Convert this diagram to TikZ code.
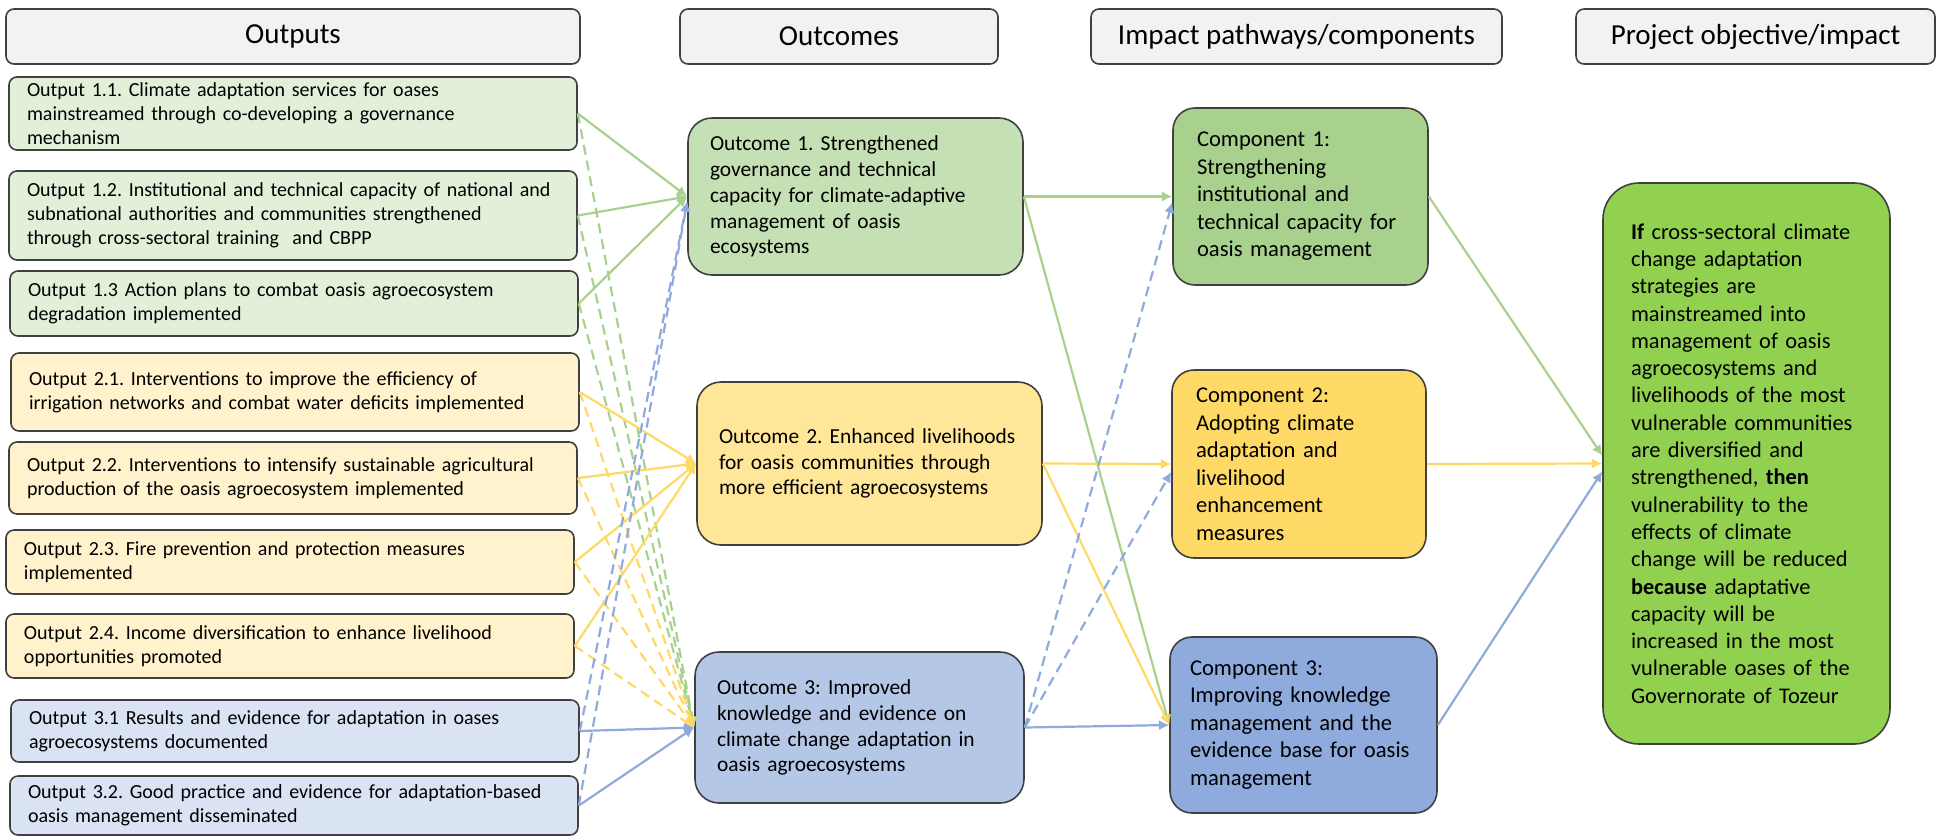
\documentclass[tikz,border=0pt]{standalone}
\usepackage{fontspec}
\setmainfont{Carlito}
\usetikzlibrary{arrows.meta}
\frenchspacing
\hyphenpenalty=10000

\definecolor{headFill}{HTML}{F2F2F2}
\definecolor{boxLine}{HTML}{404040}
\definecolor{outGreenFill}{HTML}{E2F0D9}
\definecolor{outYellowFill}{HTML}{FFF2CC}
\definecolor{outBlueFill}{HTML}{DAE3F3}
\definecolor{midGreenFill}{HTML}{C5E0B4}
\definecolor{midYellowFill}{HTML}{FFE699}
\definecolor{midBlueFill}{HTML}{B4C7E7}
\definecolor{compGreenFill}{HTML}{A9D18E}
\definecolor{compYellowFill}{HTML}{FFD966}
\definecolor{compBlueFill}{HTML}{8FAADC}
\definecolor{objFill}{HTML}{92D050}
\definecolor{lineGreen}{HTML}{A9D18E}
\definecolor{lineYellow}{HTML}{FFD966}
\definecolor{lineBlue}{HTML}{8FAADC}

\tikzset{%
    >={Latex[width=1.8mm,length=1.8mm]},
    base/.style = {
        rectangle, rounded corners=4pt, draw=boxLine, line width=0.8pt,
        align=left, inner ysep=2pt, text=black
    },
    header/.style = {base, fill=headFill, minimum height=27.5pt, align=center,
        font=\fontsize{14.5}{17}\selectfont},
    output/.style = {base, inner xsep=9pt, text width=266pt,
        font=\fontsize{10}{12}\selectfont},
    outGreen/.style = {output, fill=outGreenFill},
    outYellow/.style = {output, fill=outYellowFill},
    outBlue/.style = {output, fill=outBlueFill},
    outcome/.style = {base, rounded corners=12pt, inner xsep=11pt,
        font=\fontsize{10.7}{12.9}\selectfont},
    component/.style = {base, rounded corners=11pt, inner xsep=12pt,
        font=\fontsize{11.3}{13.75}\selectfont},
    objective/.style = {base, rounded corners=18pt, fill=objFill, inner xsep=14pt,
        text width=115.5pt, minimum height=280.5pt,
        font=\fontsize{11.2}{13.65}\selectfont},
    link/.style = {->, line width=1.1pt},
    weak/.style = {link, dash pattern=on 5pt off 3pt},
}

\begin{document}
\begin{tikzpicture}[x=0.5pt, y=-0.5pt]
    \useasboundingbox (0,0) rectangle (1946,837);

    % Column headers
    \node (hOutputs)   [header, minimum width=287pt]   at (293,36.5)    {Outputs};
    \node (hOutcomes)  [header, minimum width=159pt]   at (839,36.5)    {Outcomes};
    \node (hImpact)    [header, minimum width=205.5pt] at (1296.5,36.5) {Impact pathways/components};
    \node (hObjective) [header, minimum width=179.5pt] at (1755.5,36.5) {Project objective/impact};

    % Outputs
    \node (out11) [outGreen, minimum height=36.5pt] at (293,113.5)
        {Output 1.1. Climate adaptation services for oases\\
         mainstreamed through co-developing a governance\\
         mechanism};
    \node (out12) [outGreen, minimum height=44.5pt] at (293,215.5)
        {Output 1.2. Institutional and technical capacity of national and\\
         subnational authorities and communities strengthened\\
         through cross-sectoral training \ and CBPP};
    \node (out13) [outGreen, minimum height=32.5pt] at (294,303.5)
        {Output 1.3 Action plans to combat oasis agroecosystem\\
         degradation implemented};
    \node (out21) [outYellow, minimum height=39pt] at (295,392)
        {Output 2.1. Interventions to improve the efficiency of\\
         irrigation networks and combat water deficits implemented};
    \node (out22) [outYellow, minimum height=36pt] at (293,478)
        {Output 2.2. Interventions to intensify sustainable agricultural\\
         production of the oasis agroecosystem implemented};
    \node (out23) [outYellow, minimum height=32pt] at (290,562)
        {Output 2.3. Fire prevention and protection measures\\
         implemented};
    \node (out24) [outYellow, minimum height=32pt] at (290,646)
        {Output 2.4. Income diversification to enhance livelihood\\
         opportunities promoted};
    \node (out31) [outBlue, minimum height=31pt] at (295,731)
        {Output 3.1 Results and evidence for adaptation in oases\\
         agroecosystems documented};
    \node (out32) [outBlue, minimum height=29.5pt] at (294,805.5)
        {Output 3.2. Good practice and evidence for adaptation-based\\
         oasis management disseminated};

    % Outcomes
    \node (outc1) [outcome, fill=midGreenFill, text width=145.5pt, minimum height=78.5pt]
        at (855.5,196.5)
        {Outcome 1. Strengthened\\ governance and technical\\
         capacity for climate-adaptive\\ management of oasis\\ ecosystems};
    \node (outc2) [outcome, fill=midYellowFill, text width=150.5pt, minimum height=81.5pt]
        at (869.5,463.5)
        {Outcome 2. Enhanced livelihoods\\ for oasis communities through\\
         more efficient agroecosystems};
    \node (outc3) [outcome, fill=midBlueFill, text width=142.5pt, minimum height=75.5pt]
        at (859.5,727.5)
        {Outcome 3: Improved\\ knowledge and evidence on\\
         climate change adaptation in\\ oasis agroecosystems};

    % Components
    \node (comp1) [component, fill=compGreenFill, text width=103.5pt, minimum height=88.5pt]
        at (1300.5,196.5)
        {Component 1:\\ Strengthening\\ institutional and\\
         technical capacity for\\ oasis management};
    \node (comp2) [component, fill=compYellowFill, text width=103pt, minimum height=94pt]
        at (1299,464)
        {Component 2:\\ Adopting climate\\ adaptation and\\ livelihood\\
         enhancement\\ measures};
    \node (comp3) [component, fill=compBlueFill, inner xsep=10pt, text width=113.5pt,
        minimum height=88pt] at (1303.5,725)
        {Component 3:\\ Improving knowledge\\ management and the\\
         evidence base for oasis\\ management};

    % Objective
    \node (goal) [objective] at (1746.5,463.5)
        {\textbf{If} cross-sectoral climate\\ change adaptation\\ strategies are\\
         mainstreamed into\\ management of oasis\\ agroecosystems and\\
         livelihoods of the most\\ vulnerable communities\\ are diversified and\\
         strengthened, \textbf{then}\\ vulnerability to the\\ effects of climate\\
         change will be reduced\\ \textbf{because} adaptative\\ capacity will be\\
         increased in the most\\ vulnerable oases of the\\ Governorate of Tozeur};

    % Outputs to outcomes
    \draw[link, lineGreen]  (out11.east) -- (outc1.west);
    \draw[link, lineGreen]  (out12.east) -- (outc1.west);
    \draw[link, lineGreen]  (out13.east) -- (outc1.west);
    \draw[weak, lineGreen]  (out11.east) -- (outc3.west);
    \draw[weak, lineGreen]  (out12.east) -- (outc3.west);
    \draw[weak, lineGreen]  (out13.east) -- (outc3.west);
    \draw[link, lineYellow] (out21.east) -- (outc2.west);
    \draw[link, lineYellow] (out22.east) -- (outc2.west);
    \draw[link, lineYellow] (out23.east) -- (outc2.west);
    \draw[link, lineYellow] (out24.east) -- (outc2.west);
    \draw[weak, lineYellow] (out21.east) -- (outc3.west);
    \draw[weak, lineYellow] (out22.east) -- (outc3.west);
    \draw[weak, lineYellow] (out23.east) -- (outc3.west);
    \draw[weak, lineYellow] (out24.east) -- (outc3.west);
    \draw[link, lineBlue]   (out31.east) -- (outc3.west);
    \draw[link, lineBlue]   (out32.east) -- (outc3.west);
    \draw[weak, lineBlue]   (out31.east) -- ([yshift=-2.5pt]outc1.west);
    \draw[weak, lineBlue]   (out32.east) -- ([yshift=-2.5pt]outc1.west);

    % Outcomes to components
    \draw[link, lineGreen]  (outc1.east) -- (comp1.west);
    \draw[link, lineGreen]  (outc1.east) -- (comp3.west);
    \draw[link, lineYellow] (outc2.east) -- (comp2.west);
    \draw[link, lineYellow] (outc2.east) -- (comp3.west);
    \draw[link, lineBlue]   (outc3.east) -- (comp3.west);
    \draw[weak, lineBlue]   (outc3.east) -- ([yshift=-3pt]comp1.west);
    \draw[weak, lineBlue]   (outc3.east) -- ([yshift=-4pt]comp2.west);

    % Components to objective
    \draw[link, lineGreen]  (comp1.east) -- ([yshift=4pt]goal.west);
    \draw[link, lineYellow] (comp2.east) -- (goal.west);
    \draw[link, lineBlue]   (comp3.east) -- ([yshift=-4pt]goal.west);
\end{tikzpicture}
\end{document}
